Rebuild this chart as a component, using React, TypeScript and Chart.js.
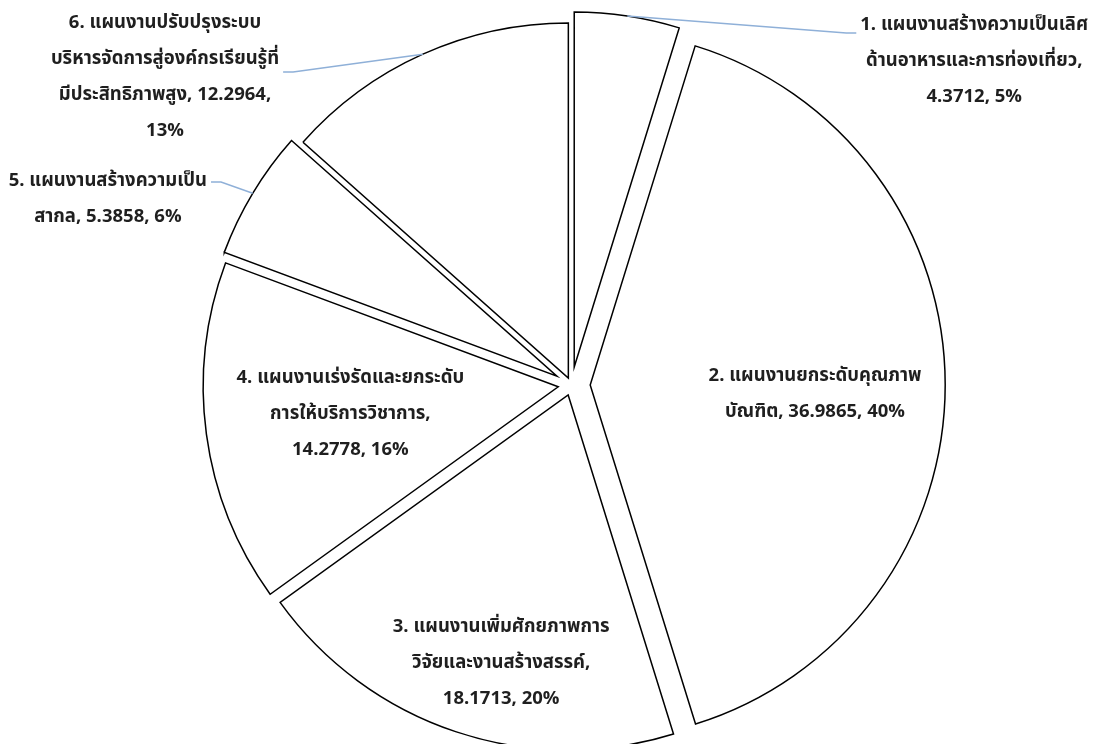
import React, { useEffect, useRef } from 'react';
import { Chart, registerables } from 'chart.js';

Chart.register(...registerables);

// ---- data ----
const categoryParts: string[][] = [
  ['1. แผนงานสร้างความเป็นเลิศ', 'ด้านอาหารและการท่องเที่ยว'],
  ['2. แผนงานยกระดับคุณภาพ', 'บัณฑิต'],
  ['3. แผนงานเพิ่มศักยภาพการ', 'วิจัยและงานสร้างสรรค์'],
  ['4. แผนงานเร่งรัดและยกระดับ', 'การให้บริการวิชาการ'],
  ['5. แผนงานสร้างความเป็น', 'สากล'],
  ['6. แผนงานปรับปรุงระบบ', 'บริหารจัดการสู่องค์กรเรียนรู้ที่', 'มีประสิทธิภาพสูง'],
];
const categories = categoryParts.map((p) => p.join(''));
const values = [4.3712, 36.9865, 18.1713, 14.2778, 5.3858, 12.2964];
// line breaks before [value, percent] in each label
const tailBreaks: [boolean, boolean][] = [
  [true, false],
  [false, false],
  [true, false],
  [true, false],
  [false, false],
  [false, true],
];

// ---- style ----
const FONT_FAMILY = "Tahoma, 'Leelawadee UI', 'Noto Sans Thai', 'Noto Sans Thai UI', Garuda, Loma, 'Noto Sans', sans-serif";
const FONT_SIZE = 18.5;
const LINE_H = 36;
const TEXT_COLOR = '#1f1f1f';
const LEADER_COLOR = '#8fb0d8';
const RADIUS = 355;
const EXPLODE = [18.2, 18.7, 10.5, 13.4, 17, 7.7];
// label centre: [angle (deg, clockwise from top), distance as fraction of radius] from slice centre
const LABEL_POLAR: [number, number][] = [
  [52.67, 1.417],
  [92.55, 0.634],
  [193.99, 0.781],
  [262.28, 0.591],
  [291.43, 1.359],
  [306.64, 1.416],
];
// leader: vertical offset of attach point from the first text line, or null
const LEADERS: (number | null)[] = [7, null, null, null, 0, 48];

function buildLines(i: number): string[] {
  const total = values.reduce((a, b) => a + b, 0);
  const pct = Math.round((values[i] / total) * 100) + '%';
  const lines = categoryParts[i].slice();
  const [bv, bp] = tailBreaks[i];
  const val = String(values[i]);
  if (bv) {
    lines[lines.length - 1] += ',';
    lines.push(val);
  } else lines[lines.length - 1] += ', ' + val;
  if (bp) {
    lines[lines.length - 1] += ',';
    lines.push(pct);
  } else lines[lines.length - 1] += ', ' + pct;
  return lines;
}

const explodePlugin = {
  id: 'explodeSlices',
  afterDatasetUpdate(chart: any, args: any) {
    const meta = chart.getDatasetMeta(args.index);
    const ca = chart.chartArea;
    const cx = (ca.left + ca.right) / 2;
    const cy = (ca.top + ca.bottom) / 2;
    meta.data.forEach((arc: any, i: number) => {
      const mid = (arc.startAngle + arc.endAngle) / 2;
      arc.x = cx + Math.cos(mid) * EXPLODE[i];
      arc.y = cy + Math.sin(mid) * EXPLODE[i];
    });
  },
};

const labelPlugin = {
  id: 'pieLabels',
  afterDatasetsDraw(chart: any) {
    const meta = chart.getDatasetMeta(0);
    const ctx: CanvasRenderingContext2D = chart.ctx;
    ctx.save();
    ctx.font = `bold ${FONT_SIZE}px ${FONT_FAMILY}`;
    ctx.textAlign = 'center';
    ctx.textBaseline = 'middle';
    meta.data.forEach((arc: any, i: number) => {
      const { x, y, startAngle, endAngle, outerRadius } = arc;
      const [angDeg, frac] = LABEL_POLAR[i];
      const a = ((angDeg - 90) * Math.PI) / 180;
      const lx = x + Math.cos(a) * frac * outerRadius;
      const ly = y + Math.sin(a) * frac * outerRadius;
      const lines = buildLines(i);
      const top = ly - ((lines.length - 1) * LINE_H) / 2;
      const maxW = Math.max(...lines.map((l) => ctx.measureText(l).width));
      const lead = LEADERS[i];
      if (lead !== null) {
        const mid = (startAngle + endAngle) / 2;
        const px = x + Math.cos(mid) * outerRadius;
        const py = y + Math.sin(mid) * outerRadius;
        const ay = top + lead;
        const right = lx > x;
        const ex = right ? lx - maxW / 2 - 4 : lx + maxW / 2 + 4;
        const elx = right ? ex - 10 : ex + 10;
        ctx.strokeStyle = LEADER_COLOR;
        ctx.lineWidth = 1.5;
        ctx.beginPath();
        ctx.moveTo(px, py);
        ctx.lineTo(elx, ay);
        ctx.lineTo(ex, ay);
        ctx.stroke();
      }
      ctx.fillStyle = TEXT_COLOR;
      lines.forEach((ln, k) => ctx.fillText(ln, lx, top + k * LINE_H));
    });
    ctx.restore();
  },
};

export default function App() {
  const ref = useRef<HTMLCanvasElement | null>(null);
  useEffect(() => {
    if (!ref.current) return;
    const chart = new Chart(ref.current, {
      type: 'pie',
      data: {
        labels: categories,
        datasets: [
          {
            data: values,
            backgroundColor: '#ffffff',
            borderColor: '#000000',
            borderWidth: 1.5,
            borderJoinStyle: 'miter',
            radius: RADIUS,
            clip: false,
          } as any,
        ],
      },
      options: {
        responsive: true,
        maintainAspectRatio: false,
        animation: false,
        events: [],
        layout: { padding: { left: 44, right: 0, top: 26, bottom: 0 } },
        plugins: { legend: { display: false }, tooltip: { enabled: false } },
      } as any,
      plugins: [explodePlugin, labelPlugin],
    });
    return () => chart.destroy();
  }, []);
  return (
    <div style={{ position: 'absolute', left: 0, top: 0, width: 1099, height: 744, background: '#fff' }}>
      <canvas ref={ref} />
    </div>
  );
}
